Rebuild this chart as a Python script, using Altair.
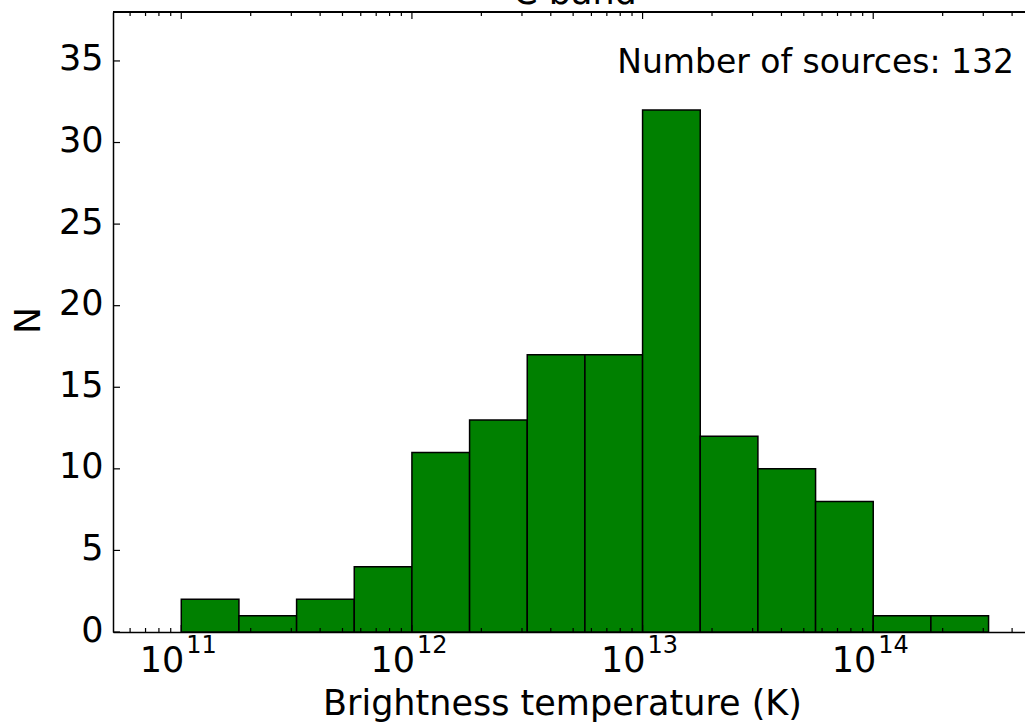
import altair as alt
import pandas as pd

# ---- data ----
bin_lo_exp = [11.0, 11.25, 11.5, 11.75, 12.0, 12.25, 12.5, 12.75, 13.0, 13.25, 13.5, 13.75, 14.0, 14.25]
bin_hi_exp = [11.25, 11.5, 11.75, 12.0, 12.25, 12.5, 12.75, 13.0, 13.25, 13.5, 13.75, 14.0, 14.25, 14.5]
counts = [2, 1, 2, 4, 11, 13, 17, 17, 32, 12, 10, 8, 1, 1]
major_exp = [11, 12, 13, 14]
y_ticks = [0, 5, 10, 15, 20, 25, 30, 35]
x_min_exp, x_max_exp = 10.704, 14.658
y_max = 38
n_sources = 132
title_text = "C band"

W, H = 912, 620
FONT = "DejaVu Sans"

bars = pd.DataFrame({
    "lo": [10 ** e for e in bin_lo_exp],
    "hi": [10 ** e for e in bin_hi_exp],
    "n": counts,
})
major = pd.DataFrame({"v": [10 ** e for e in major_exp],
                      "base": ["10"] * len(major_exp),
                      "exp": [str(e) for e in major_exp]})
minor_vals = [k * 10 ** n for n in range(10, 15) for k in range(2, 10)
              if 10 ** x_min_exp <= k * 10 ** n <= 10 ** x_max_exp]
minor = pd.DataFrame({"v": minor_vals})
yt = pd.DataFrame({"v": y_ticks})

xscale = alt.Scale(type="log", domain=[10 ** x_min_exp, 10 ** x_max_exp], nice=False)
yscale = alt.Scale(domain=[0, y_max], nice=False, zero=True)

xaxis = alt.Axis(labels=False, ticks=False, grid=False, domain=True,
                 domainColor="black", domainWidth=1.5,
                 title="Brightness temperature (K)", titleFontSize=35,
                 titleFont=FONT, titleFontWeight="normal", titleColor="black",
                 titleX=449, titleY=82, titleBaseline="alphabetic", titleAlign="center")
yaxis = alt.Axis(values=y_ticks, ticks=False, grid=False, domain=True,
                 domainColor="black", domainWidth=1.5,
                 labelFontSize=35, labelFont=FONT, labelColor="black", labelPadding=10,
                 labelBaseline="alphabetic", labelOffset=9,
                 title="N", titleFontSize=36, titleFont=FONT, titleFontWeight="normal",
                 titleColor="black", titleAngle=270, titleX=-74, titleY=308,
                 titleBaseline="alphabetic", titleAlign="center")

base_bars = alt.Chart(bars).mark_bar(fill="#008000", stroke="black", strokeWidth=1.5,
                                     opacity=1).encode(
    x=alt.X("lo:Q", scale=xscale, axis=xaxis),
    x2="hi:Q",
    y=alt.Y("n:Q", scale=yscale, axis=yaxis),
    y2=alt.datum(0),
)

def xrule(df, y0, y1):
    return alt.Chart(df).mark_rule(color="black", strokeWidth=1.2).encode(
        x=alt.X("v:Q", scale=xscale, axis=xaxis),
        y=alt.value(y0), y2=alt.value(y1))

minor_bot = xrule(minor, H, H - 4)
minor_top = xrule(minor, 0, 4)
major_bot = xrule(major, H, H - 7)
major_top = xrule(major, 0, 7)

y_tick_rules = alt.Chart(yt).mark_rule(color="black", strokeWidth=1.2).encode(
    y=alt.Y("v:Q", scale=yscale, axis=yaxis),
    x=alt.value(0), x2=alt.value(7))

top_spine = alt.Chart(yt).mark_rule(color="black", strokeWidth=1.5).encode(
    x=alt.value(0), x2=alt.value(W), y=alt.value(0))

lab_base = alt.Chart(major).mark_text(align="right", baseline="alphabetic", fontSize=35,
                                      font=FONT, color="black", dx=3).encode(
    x=alt.X("v:Q", scale=xscale, axis=xaxis), y=alt.value(660), text="base:N")
lab_exp = alt.Chart(major).mark_text(align="left", baseline="alphabetic", fontSize=24,
                                     font=FONT, color="black", dx=5).encode(
    x=alt.X("v:Q", scale=xscale, axis=xaxis), y=alt.value(641), text="exp:N")

annot = alt.Chart(pd.DataFrame({"t": [f"Number of sources: {n_sources}"]})).mark_text(
    align="right", baseline="alphabetic", fontSize=33, font=FONT, color="black").encode(
    x=alt.value(901), y=alt.value(61), text="t:N")

title_mark = alt.Chart(pd.DataFrame({"t": [title_text]})).mark_text(
    align="center", baseline="alphabetic", fontSize=35, font=FONT, color="black").encode(
    x=alt.value(W / 2 + 6), y=alt.value(-8), text="t:N")

chart = alt.layer(
    base_bars, minor_bot, minor_top, major_bot, major_top, y_tick_rules, top_spine,
    lab_base, lab_exp, annot, title_mark
).properties(
    width=W, height=H,
    autosize=alt.AutoSizeParams(type="none"),
    padding={"left": 113, "top": 12, "right": 0, "bottom": 92},
    background="white",
).configure_view(strokeWidth=0).configure(font=FONT)

chart.save("out.html", embed_options={"renderer": "svg", "actions": False})
